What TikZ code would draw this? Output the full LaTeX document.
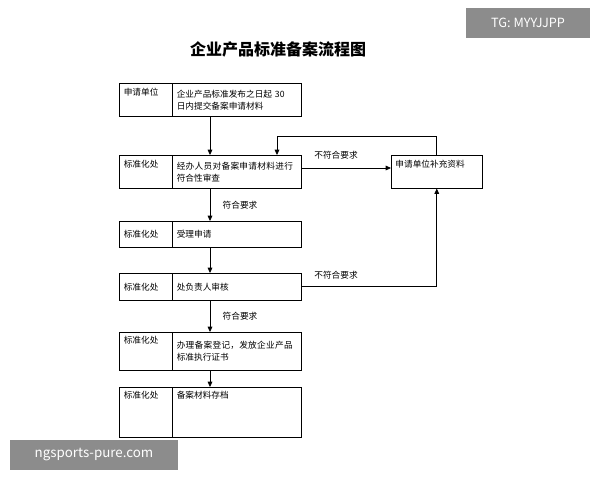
\documentclass[tikz,border=0pt]{standalone}
\usepackage{fontspec}
\setmainfont{Noto Sans CJK SC}
\XeTeXlinebreaklocale "zh"
\XeTeXlinebreakskip=0pt plus 1pt
\usetikzlibrary{arrows.meta}
\tikzset{
	cellL/.style={draw, anchor=north west, minimum width=39.75pt, text width=33pt, align=left, inner sep=3pt, font=\fontsize{6.5}{9}\selectfont},
	cellR/.style={draw, anchor=north west, minimum width=96.75pt, text width=90pt, align=left, inner sep=3pt, font=\fontsize{6.5}{9}\selectfont},
	flow/.style={-{Triangle[length=4pt,width=3.5pt]}, line width=0.6pt},
	lbl/.style={font=\fontsize{6.5}{8}\selectfont, inner sep=1pt}
}
\begin{document}
\begin{tikzpicture}[x=0.75pt,y=0.75pt,yscale=-1,xscale=1]
	\useasboundingbox (0,0) rectangle (600,480);
	
	% Title
	\node (title) at (278,49) {\fontsize{12}{14}\selectfont\bfseries 企业产品标准备案流程图};
	
	% Rows
	\node (a1) [cellL, minimum height=24.75pt] at (119,83) {\parbox[t][18pt][t]{33pt}{申请单位}};
	\node (a2) [cellR, minimum height=24.75pt] at (172,83) {企业产品标准发布之日起 30\\日内提交备案申请材料};
	\node (b1) [cellL, minimum height=24.75pt] at (119,155) {\parbox[t][18pt][t]{33pt}{标准化处}};
	\node (b2) [cellR, minimum height=24.75pt] at (172,155) {经办人员对备案申请材料进行符合性审查};
	\node (c1) [cellL, minimum height=19.5pt] at (119,221) {标准化处};
	\node (c2) [cellR, minimum height=19.5pt] at (172,221) {受理申请};
	\node (d1) [cellL, minimum height=20.25pt] at (119,273) {标准化处};
	\node (d2) [cellR, minimum height=20.25pt] at (172,273) {处负责人审核};
	\node (e1) [cellL, minimum height=28.5pt] at (119,332) {\parbox[t][22pt][t]{33pt}{标准化处}};
	\node (e2) [cellR, minimum height=28.5pt] at (172,332) {办理备案登记，发放企业产品标准执行证书};
	\node (f1) [cellL, minimum height=37.5pt] at (119,387) {\parbox[t][31pt][t]{33pt}{标准化处}};
	\node (f2) [cellR, minimum height=37.5pt] at (172,387) {\parbox[t][31pt][t]{90pt}{备案材料存档}};
	\node (s) [draw, anchor=north west, minimum width=68.25pt, minimum height=24.75pt, text width=62pt, align=left, inner sep=3pt, font=\fontsize{6.5}{9}\selectfont] at (391,155) {\parbox[t][18pt][t]{62pt}{申请单位补充资料}};
	
	% Connectors
	\draw [flow] (a2.south west) ++(38,0) coordinate (p1) -- (p1 |- b2.north);
	\draw [flow] (b2.south west) ++(38,0) coordinate (p2) -- (p2 |- c2.north);
	\draw [flow] (c2.south west) ++(38,0) coordinate (p3) -- (p3 |- d2.north);
	\draw [flow] (d2.south west) ++(38,0) coordinate (p4) -- (p4 |- e2.north);
	\draw [flow] (e2.south west) ++(38,0) coordinate (p5) -- (p5 |- f2.north);
	\draw [flow] (b2.east |- 0,168) -- (s.west |- 0,168);
	\coordinate (q1) at (s.north);
	\draw [flow] (q1) -- ++(0,-19) -| ([xshift=78.75pt]b2.north west);
	\draw [flow] (d2.east |- 0,286) -| (s.south);
	
	% Labels
	\node (n1) [lbl] at (336,155) {不符合要求};
	\node (n2) [lbl] at (336,275) {不符合要求};
	\node (y1) [lbl] at (240,205) {符合要求};
	\node (y2) [lbl] at (240,316) {符合要求};
	
	% Watermarks
	\node (w1) [fill=black!45, text=white, minimum width=93pt, minimum height=22.5pt, font=\fontsize{9.5}{11}\selectfont] at (528,23) {TG: MYYJJPP};
	\node (w2) [fill=black!45, text=white, minimum width=126pt, minimum height=22.5pt, font=\fontsize{10}{12}\selectfont] at (94,455) {ngsports-pure.com};
\end{tikzpicture}
\end{document}
